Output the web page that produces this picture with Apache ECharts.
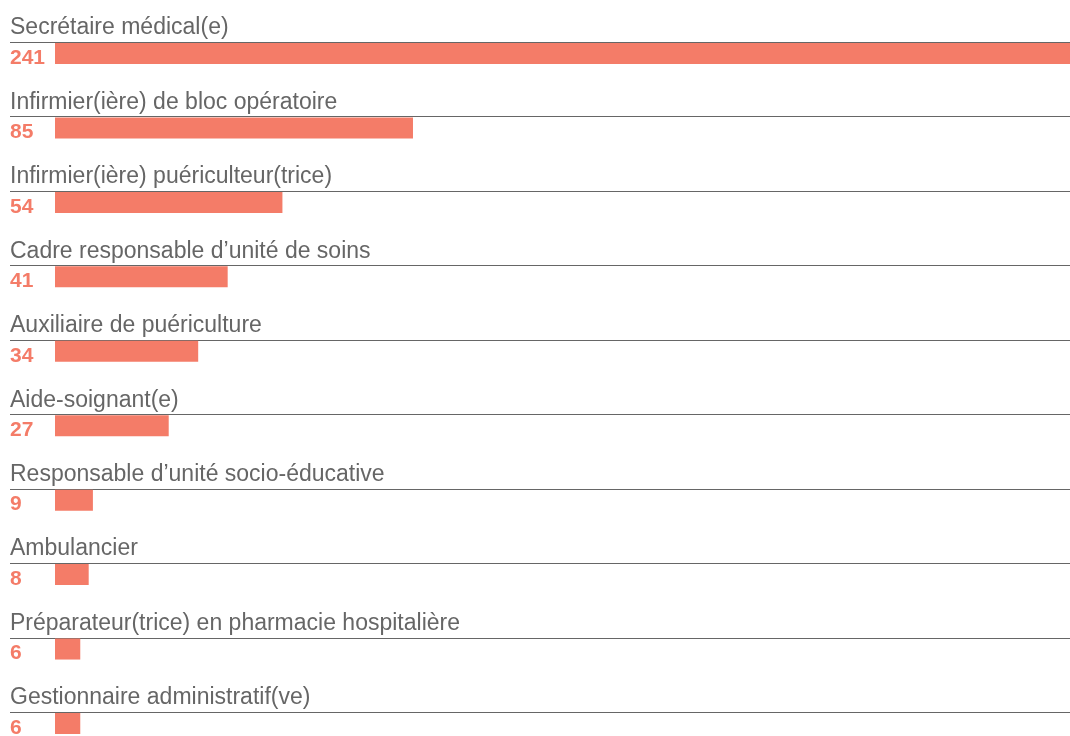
<!DOCTYPE html>
<html>
<head>
<meta charset="utf-8">
<script src="https://cdn.jsdelivr.net/npm/echarts@6/dist/echarts.min.js"></script>
<style>html,body{margin:0;padding:0;background:#fff;}#chart{width:1070px;height:736px;}</style>
</head>
<body>
<div id="chart"></div>
<script>
const categories = [
  "Secrétaire médical(e)",
  "Infirmier(ière) de bloc opératoire",
  "Infirmier(ière) puériculteur(trice)",
  "Cadre responsable d\u2019unité de soins",
  "Auxiliaire de puériculture",
  "Aide-soignant(e)",
  "Responsable d\u2019unité socio-éducative",
  "Ambulancier",
  "Préparateur(trice) en pharmacie hospitalière",
  "Gestionnaire administratif(ve)"
];
const values = [241, 85, 54, 41, 34, 27, 9, 8, 6, 6];

const chart = echarts.init(document.getElementById('chart'), null, {renderer: 'canvas'});
const FONT = '"Liberation Sans", Arial, Helvetica, sans-serif';
const BAR = '#F47C68';

chart.setOption({
  animation: false,
  grid: {left: 55, right: 0, top: 16.3, height: 744.4, containLabel: false, outerBoundsMode: 'none'},
  xAxis: {type: 'value', min: 0, max: 241, show: false},
  yAxis: {type: 'category', data: categories, inverse: true, show: false},
  series: [{
    type: 'custom',
    clip: false,
    data: values.map((v, i) => [v, i]),
    encode: {x: 0, y: 1},
    renderItem: function (params, api) {
      const v = api.value(0);
      const idx = api.value(1);
      const p0 = api.coord([0, idx]);
      const p1 = api.coord([v, idx]);
      const cy = p0[1];
      const lineY = Math.round(cy - 11.5) + 0.5;
      return {
        type: 'group',
        children: [
          {type: 'text', style: {x: 10, y: cy - 25.5, text: categories[idx], fill: '#666666', font: '23px ' + FONT, verticalAlign: 'middle', align: 'left'}},
          {type: 'line', shape: {x1: 10, y1: lineY, x2: 1070, y2: lineY}, style: {stroke: '#666666', lineWidth: 1}},
          {type: 'rect', shape: {x: p0[0], y: cy - 10.5, width: p1[0] - p0[0], height: 21}, style: {fill: BAR}},
          {type: 'text', style: {x: 10, y: cy + 4.5, text: String(v), fill: BAR, font: 'bold 21px ' + FONT, verticalAlign: 'middle', align: 'left'}}
        ]
      };
    }
  }]
});
</script>
</body>
</html>
